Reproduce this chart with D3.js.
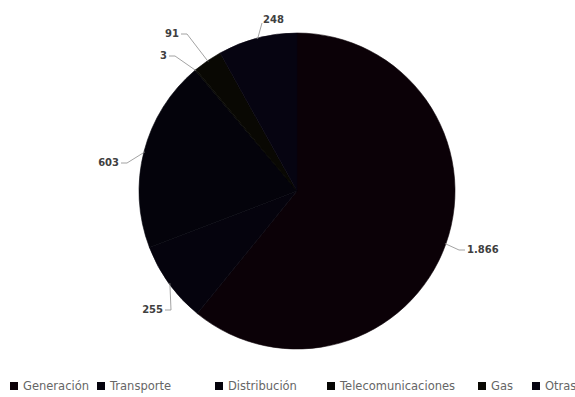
<!DOCTYPE html>
<html><head><meta charset="utf-8">
<script src="https://cdn.jsdelivr.net/npm/d3@7"></script>
<style>body{margin:0;background:#fff}svg{display:block}</style>
</head><body>
<svg id="c" width="575" height="397"></svg>
<script>
const categories = ["Generación","Transporte","Distribución","Telecomunicaciones","Gas","Otras"];
const values = [1866, 255, 603, 3, 91, 248];
const valueLabels = ["1.866","255","603","3","91","248"];
const colors = ["#0b0107","#05030d","#04030b","#060604","#090803","#060411"];
// label layout (absolute text position & anchor)
const labelX = [467, 163, 119, 167, 179, 263];
const labelY = [249, 309, 162, 55, 33, 19];
const labelAnchor = ["start","end","end","end","end","start"];
const legendX = [10, 97, 215, 327, 478, 532];

const svg = d3.select("#c");
const cx = 297, cy = 191, r = 158;
const g = svg.append("g").attr("transform", `translate(${cx},${cy})`);
const pie = d3.pie().sort(null).value(d => d)(values);
const arc = d3.arc().innerRadius(0).outerRadius(r);
g.selectAll("path.s").data(pie).join("path").attr("class","s")
  .attr("d", arc).attr("fill", (d,i) => colors[i])
  .attr("stroke", (d,i) => colors[i]).attr("stroke-width", 0.6);

const lab = svg.append("g");
pie.forEach((d,i) => {
  const m = (d.startAngle + d.endAngle)/2;
  const p0 = [cx + (r-1)*Math.sin(m), cy - (r-1)*Math.cos(m)];
  const start = labelAnchor[i] === "start";
  let p2, elbow;
  if (i === 5) { p2 = [labelX[i]-1, labelY[i]+4]; elbow = p2; }
  else {
    p2 = [labelX[i] + (start ? -2 : 2), labelY[i] + 1];
    elbow = [p2[0] + (start ? -6 : 6), p2[1]];
  }
  lab.append("polyline")
    .attr("points", [p0, elbow, p2].map(p => p.join(",")).join(" "))
    .attr("fill","none").attr("stroke","#8c8c8c").attr("stroke-width",0.8);
  lab.append("text").attr("x", labelX[i]).attr("y", labelY[i])
    .attr("dy","0.35em").attr("text-anchor", labelAnchor[i])
    .attr("font-family","'DejaVu Sans', sans-serif").attr("font-weight","bold")
    .attr("font-size", 10).attr("fill","#404040").text(valueLabels[i]);
});

const lg = svg.append("g").attr("transform","translate(0,386)");
categories.forEach((c,i) => {
  lg.append("rect").attr("x", legendX[i]).attr("y",-4).attr("width",8).attr("height",8).attr("fill", colors[i]);
  lg.append("text").attr("x", legendX[i]+13).attr("y",0).attr("dy","0.35em")
    .attr("font-family","'DejaVu Sans', sans-serif").attr("font-size",11.5)
    .attr("fill","#666666").text(c);
});
</script>
</body></html>
